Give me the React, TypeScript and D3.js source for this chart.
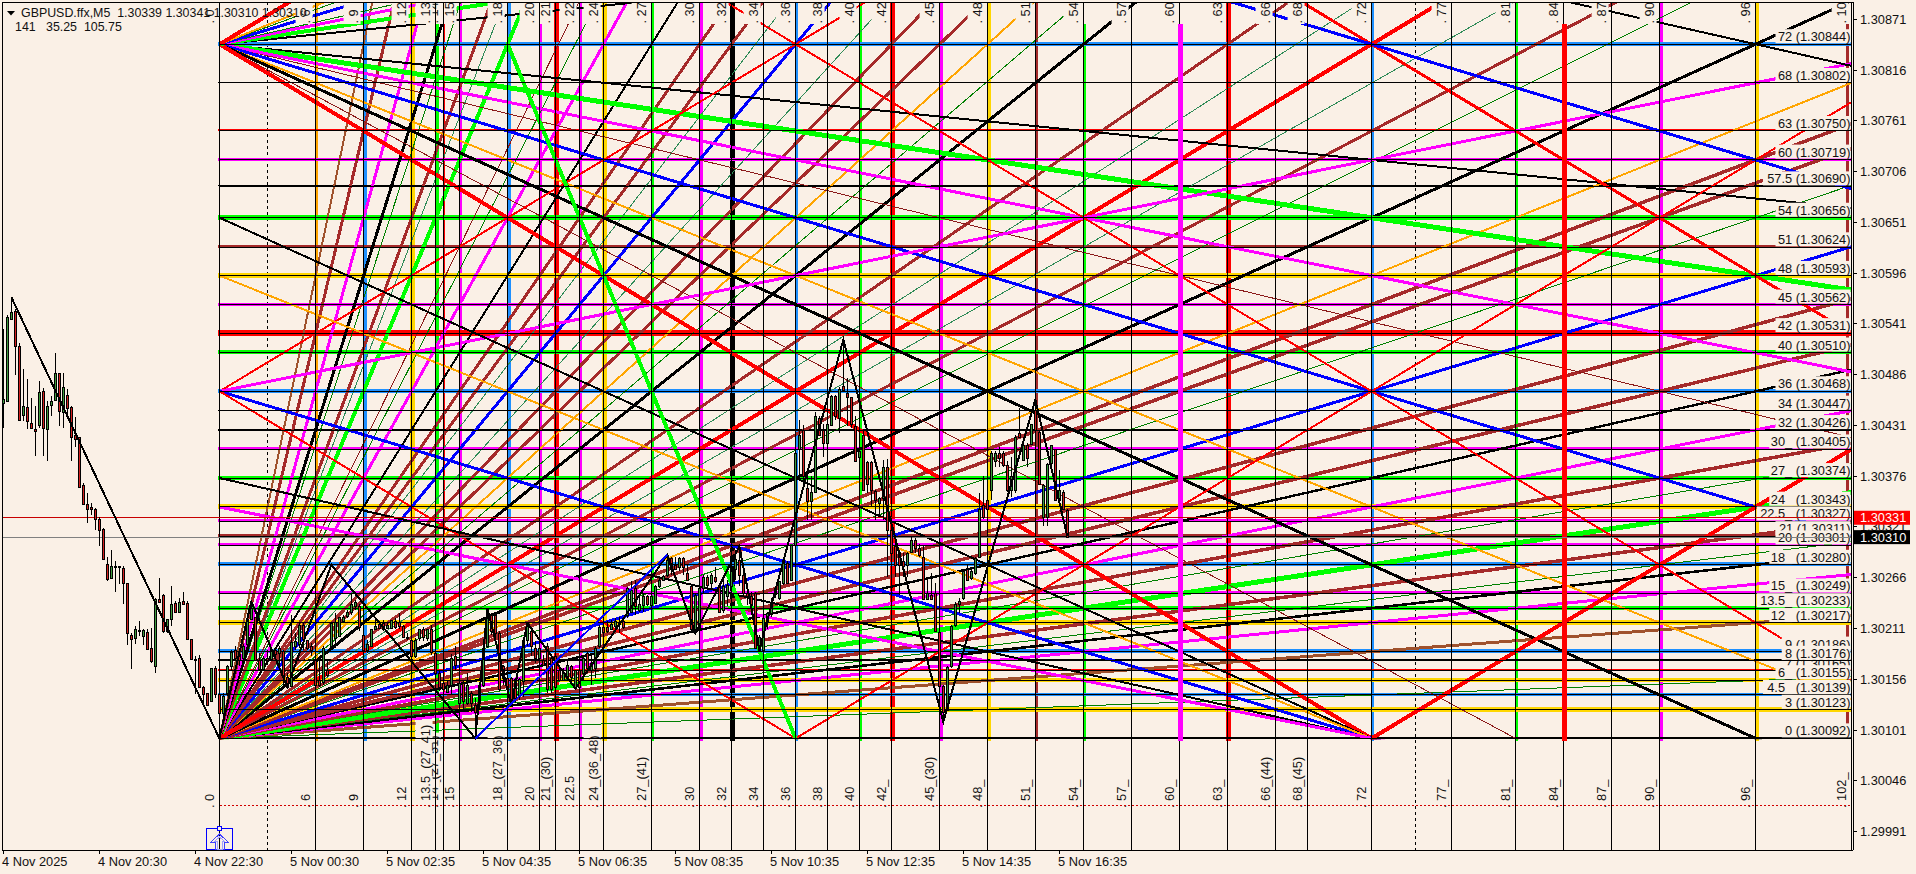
import React from "react";
import * as d3 from "d3";

const BG = "#FAF0E6";
const FONT = "'Liberation Sans', Arial, sans-serif";
const C: Record<string, string> = {
  k: "#000000", r: "#FF0000", b: "#0000FF", d: "#1E90FF", l: "#00FF00", m: "#FF00FF", g: "#FFD700",
  o: "#FFA500", n: "#A52A2A", s: "#A0522D", f: "#008000", e: "#2E8B57", t: "#8B1A1A",
};

// Price levels in draw order: unit, price, label, colour, line width
const levelUnits = [72, 68, 63, 60, 57.5, 54, 51, 48, 45, 42, 40, 36, 34, 32, 30, 27, 24, 22.5, 21, 20, 18, 15, 13.5, 12, 9, 7, 8, 6, 4.5, 3, 0];
const levelPrices = [1.30844, 1.30802, 1.3075, 1.30719, 1.3069, 1.30656, 1.30624, 1.30593, 1.30562, 1.30531, 1.3051, 1.30468, 1.30447, 1.30426, 1.30405, 1.30374, 1.30343, 1.30327, 1.30311, 1.30301, 1.3028, 1.30249, 1.30233, 1.30217, 1.30186, 1.30165, 1.30176, 1.30155, 1.30139, 1.30123, 1.30092];
const levelTags = ["72", "68", "63", "60", "57.5", "54", "51", "48", "45", "42", "40", "36", "34", "32", "30_", "27_", "24_", "22.5_", "21", "20", "18_", "15_", "13.5_", "12_", "9", "7", "8", "6_", "4.5_", "3", "0"];
const levelColors = ["d", "k", "r", "m", "k", "l", "n", "g", "m", "r", "l", "d", "k", "k", "m", "l", "g", "m", "n", "m", "d", "m", "l", "g", "d", "r", "k", "g", "d", "g", "k"];
const levelWidths = [4, 1, 2, 3, 1, 5, 3, 5, 3, 6, 4, 4, 1, 2, 3, 4, 5, 3, 3, 3, 4, 3, 4, 5, 4, 2, 2, 4, 3, 5, 1];

// Time columns in draw order: unit, label, colour, width
const colUnits = [0, 6, 9, 12, 14, 13.5, 15, 18, 20, 21, 22.5, 24, 27, 30, 32, 34, 36, 38, 40, 42, 45, 48, 51, 54, 57, 60, 63, 66, 68, 72, 77, 81, 84, 87, 90, 96, 102];
const colTags = ["0", "6", "9", "12", "14_(27_51)", "13.5_(27_41)", "15", "18_(27_36)", "20", "21_(30)", "22.5", "24_(36_48)", "27_(41)", "30", "32", "34", "36", "38", "40", "42_", "45_(30)", "48_", "51_", "54_", "57_", "60_", "63_", "66_(44)", "68_(45)", "72", "77_", "81_", "84_", "87_", "90_", "96_", "102_"];
const colColors = ["k", "o", "d", "g", "r", "l", "m", "d", "m", "r", "m", "g", "l", "m", "k", "k", "d", "k", "l", "r", "m", "g", "n", "l", "k", "m", "r", "k", "k", "d", "k", "l", "r", "k", "m", "g", "k"];
const colWidths = [1, 3, 4, 5, 2, 4, 3, 4, 3, 5, 3, 5, 3, 4, 5, 1, 3, 1, 3, 5, 4, 4, 3, 3, 1, 5, 5, 1, 1, 3, 1, 3, 5, 1, 4, 4, 1];
const colsHiddenAtTop = [13.5, 20, 54, 60, 84, 102];
const colsOverBlack = [60, 84];
const edgeBarUnit = 101.75;

// Fan rays: start unit, start level, slope (level per unit), colour, width
const rays: [number, number, number, string, number][] = [
  // from (0,0), rising
  [0, 0, 0.0625, "f", 1], [0, 0, 0.125, "s", 3], [0, 0, 1 / 6, "m", 3], [0, 0, 3 / 16, "k", 2.6], [0, 0, 0.2, "f", 1],
  [0, 0, 0.22, "n", 3.5], [0, 0, 0.25, "l", 5], [0, 0, 0.28, "f", 1], [0, 0, 0.3, "n", 3.5], [0, 0, 1 / 3, "m", 3],
  [0, 0, 0.375, "k", 2.4], [0, 0, 0.4, "n", 3.5], [0, 0, 0.447, "n", 3.5], [0, 0, 0.5, "b", 3], [0, 0, 0.5625, "f", 1],
  [0, 0, 0.6, "n", 3.5], [0, 0, 0.625, "n", 3.5], [0, 0, 2 / 3, "o", 2], [0, 0, 0.75, "k", 3], [0, 0, 0.83, "f", 1],
  [0, 0, 0.875, "n", 3], [0, 0, 0.944, "e", 1], [0, 0, 1.07, "e", 1], [0, 0, 8 / 7, "n", 3], [0, 0, 4 / 3, "k", 3],
  [0, 0, 1.42, "f", 1], [0, 0, 1.5, "o", 2], [0, 0, 1.6, "n", 3], [0, 0, 1.714, "n", 3], [0, 0, 1.83, "e", 1],
  [0, 0, 2, "b", 3], [0, 0, 2.15, "e", 1], [0, 0, 2.25, "n", 3], [0, 0, 2.4, "n", 3], [0, 0, 8 / 3, "k", 2],
  [0, 0, 3, "m", 3], [0, 0, 3.24, "f", 1], [0, 0, 3.4, "t", 1], [0, 0, 4, "l", 4], [0, 0, 4.3, "e", 1],
  [0, 0, 4.5, "n", 3], [0, 0, 5.07, "f", 1], [0, 0, 16 / 3, "k", 3], [0, 0, 6, "m", 3], [0, 0, 7, "n", 3], [0, 0, 8, "s", 2],
  [0, 0, 1, "r", 4],
  // from (0,72), falling
  [0, 72, -8 / 9, "t", 1], [0, 72, -0.4, "t", 1], [0, 72, -1 / 6, "k", 2], [0, 72, -0.25, "l", 5], [0, 72, -1 / 3, "m", 3],
  [0, 72, -0.5, "b", 3], [0, 72, -2 / 3, "o", 2], [0, 72, -0.75, "k", 3], [0, 72, -1, "r", 4],
  // from (0,72), rising
  [0, 72, 1 / 6, "k", 2], [0, 72, 0.25, "l", 4], [0, 72, 1 / 3, "m", 3], [0, 72, 0.38, "f", 1], [0, 72, 0.5, "b", 3], [0, 72, 0.6, "f", 1], [0, 72, 2 / 3, "o", 2], [0, 72, 1, "r", 4],
  // from (0,36)
  [0, 36, 1, "r", 2], [0, 36, 1 / 3, "m", 3], [0, 36, -0.5, "b", 3], [0, 36, -1, "r", 2],
  // left side of (72,0)
  [0, 54, -0.75, "k", 2], [0, 48, -2 / 3, "o", 2], [0, 27, -0.375, "k", 2], [0, 24, -1 / 3, "m", 3],
  // others
  [36, 0, 1, "r", 2], [72, 0, 1, "r", 4], [18, 72, -4, "l", 4], [0, 108, -1, "r", 2], [0, 144, -1, "r", 3], [0, 108, -0.5, "b", 3], [0, 108, -0.375, "k", 2],
];

// Bars: open, high, low, close, in points above 1.30000
const candles = [
  [455,535,428,460],[458,551,457,549],[546,569,546,554],[555,557,486,517],[517,520,436,437],[442,492,436,452],[451,481,427,436],[434,461,427,428],[427,452,398,425],[431,479,428,467],
  [468,472,398,428],[427,457,392,452],[453,463,441,458],[459,509,458,488],[488,488,430,447],[446,488,428,473],[464,470,439,450],[451,452,392,419],[421,440,408,416],[418,419,363,364],
  [367,369,346,346],[346,358,325,341],[343,347,334,341],[341,342,318,330],[330,332,300,318],[319,320,285,286],[281,288,262,265],[266,296,266,279],[279,284,251,279],[279,279,259,278],
  [277,279,238,260],[260,260,193,206],[204,206,167,200],[201,214,194,210],[209,219,203,208],[203,210,193,209],[207,211,188,189],[190,212,174,176],[170,244,163,243],[243,266,239,240],
  [247,248,206,208],[208,221,206,221],[221,257,214,238],[239,241,228,229],[229,244,228,240],[241,251,237,238],[239,241,200,200],[200,200,177,178],[178,181,140,177],[179,182,147,148],
  [148,149,129,140],[141,141,127,128],[132,168,132,168],[168,170,136,140],[140,141,94,120],[120,141,112,138],[141,172,138,170],[170,188,165,186],[188,192,177,179],[183,188,170,177],
  [179,194,177,192],[194,228,186,221],[221,241,221,233],[223,224,176,177],[177,185,165,167],[167,181,165,179],[179,188,174,177],[178,190,177,188],[188,190,181,183],[185,192,167,190],
  [187,188,149,158],[159,163,147,148],[149,226,149,196],[192,206,188,197],[194,217,190,215],[215,217,188,200],[199,199,188,190],[192,195,181,188],[177,217,148,150],[155,177,148,150],
  [153,192,150,190],[166,177,159,161],[192,217,190,217],[201,228,190,218],[203,224,202,223],[219,226,217,224],[225,231,222,229],[229,249,226,238],[235,242,231,240],[235,238,208,213],
  [204,213,177,188],[188,199,184,194],[192,211,192,210],[211,220,210,214],[216,219,211,212],[217,220,208,211],[212,217,210,215],[212,220,211,220],[219,222,211,213],[218,228,211,214],
  [214,215,201,202],[202,206,199,201],[199,202,179,181],[181,201,179,199],[201,211,197,210],[211,213,197,202],[201,211,197,210],[211,215,182,186],[185,186,143,163],[163,166,143,148],
  [152,164,139,145],[142,154,141,150],[150,183,139,179],[181,192,166,172],[130,155,125,152],[152,155,121,132],[130,163,128,150],[141,143,121,130],[128,136,92,121],[130,152,123,150],
  [150,192,148,190],[192,233,190,222],[226,228,204,208],[226,228,197,206],[206,208,143,145],[170,172,150,157],[157,168,143,146],[157,159,128,132],[156,157,130,136],[139,157,134,156],
  [154,199,137,199],[199,217,192,215],[208,213,181,192],[190,197,174,179],[179,193,163,190],[177,182,170,172],[192,195,141,146],[179,181,141,146],[181,184,143,148],[166,168,155,155],
  [155,168,154,164],[157,177,155,171],[170,172,150,159],[148,166,146,166],[166,168,146,148],[163,181,154,179],[184,186,163,168],[166,181,150,174],[168,192,157,190],[192,215,190,213],
  [213,217,206,207],[213,219,206,208],[210,220,210,216],[214,222,210,219],[218,224,206,216],[219,224,211,213],[226,256,222,255],[229,262,229,253],[255,264,226,235],[231,247,229,238],
  [236,249,229,246],[246,247,235,238],[237,249,235,246],[239,258,238,257],[257,267,255,264],[264,269,262,268],[269,291,267,285],[287,289,269,276],[280,289,275,276],[278,289,273,287],
  [287,289,269,278],[271,280,262,264],[257,258,208,211],[210,249,206,247],[213,257,208,255],[255,269,249,267],[267,269,253,258],[260,271,255,269],[267,278,260,262],[258,260,228,229],
  [231,264,228,257],[246,264,235,258],[257,275,253,273],[276,296,264,286],[285,300,257,269],[269,271,246,249],[249,260,237,246],[246,251,231,237],[249,251,190,190],[188,204,186,202],
  [188,224,188,222],[219,229,210,228],[228,244,224,240],[248,257,244,255],[244,262,242,262],[260,287,258,285],[282,284,260,260],[264,302,262,301],[301,403,300,401],[405,437,374,421],
  [426,432,368,376],[363,377,329,349],[349,376,329,359],[359,446,358,441],[439,441,421,421],[426,433,397,412],[412,437,408,433],[431,464,430,463],[463,464,437,441],[439,473,423,471],
  [474,524,468,469],[466,482,430,462],[462,462,428,433],[430,441,392,392],[397,405,394,403],[421,426,361,361],[391,392,358,368],[391,392,343,361],[360,361,329,350],[347,354,332,352],
  [352,394,329,386],[386,395,267,318],[318,329,269,293],[300,311,267,280],[294,296,247,280],[284,293,267,279],[280,294,267,293],[294,311,293,307],[307,309,293,298],[298,303,289,291],
  [289,300,242,243],[243,264,242,249],[247,271,242,243],[250,260,208,208],[207,210,148,149],[149,150,110,121],[123,170,123,169],[170,215,168,214],[215,240,213,238],[238,244,228,241],
  [244,273,242,273],[276,280,264,264],[266,275,264,273],[271,289,269,287],[288,358,287,341],[345,376,330,332],[350,401,330,341],[361,403,350,401],[392,403,386,401],[401,408,386,396],
  [401,403,386,388],[388,392,359,361],[361,397,354,376],[361,421,358,419],[423,450,419,419],[394,412,392,410],[410,412,386,396],[411,433,410,433],[448,459,368,426],[424,426,367,368],
  [332,368,322,367],[332,390,322,389],[390,410,379,410],[405,406,350,350],[350,383,350,361],[359,361,340,340],[339,341,310,310],
];

// Zigzag turning points: bar index and points above 1.30000
const zigBars = [2, 54, 62, 71, 82, 118, 121, 127, 131, 143, 166, 173, 184, 189, 210, 235, 258, 266];
const zigPoints = [570, 92, 240, 148, 280, 92, 233, 128, 217, 146, 291, 206, 300, 188, 524, 110, 459, 311];
const trendBars = [118, 166];
const trendPoints = [92, 291];

const priceTicks = [1.30871, 1.30816, 1.30761, 1.30706, 1.30651, 1.30596, 1.30541, 1.30486, 1.30431, 1.30376, 1.30321, 1.30266, 1.30211, 1.30156, 1.30101, 1.30046, 1.29991];
const timeTicks = ["4 Nov 2025", "4 Nov 20:30", "4 Nov 22:30", "5 Nov 00:30", "5 Nov 02:35", "5 Nov 04:35", "5 Nov 06:35", "5 Nov 08:35", "5 Nov 10:35", "5 Nov 12:35", "5 Nov 14:35", "5 Nov 16:35"];
const daySeparatorBars = [66, 353];
const askPrice = 1.30331;
const bidPrice = 1.30310;
const dottedPrice = 1.30019;

const W = 1916, H = 874, L = 2, R = 1851, T = 2, B = 850;
const yP = d3.scaleLinear().domain([1.30871, 1.29991]).range([19.3, 831.6]);
const xU = d3.scaleLinear().domain([0, 102]).range([219.6, 1851.6]);
const yU = d3.scaleLinear().domain([0, 72]).range([yP(1.30092), yP(1.30844)]);
const xBar = d3.scaleLinear().domain([0, 266]).range([3.33, 1067.33]);
const yPts = (p: number) => yP(1.3 + p / 100000);
const px = (v: number) => Math.round(v);
const zigLine = d3.line<number>().x((b) => xBar(b)).y((_, i) => yPts(zigPoints[i]));
const trendLine = d3.line<number>().x((b) => xBar(b)).y((_, i) => yPts(trendPoints[i]));
const tickX = d3.scaleLinear().domain([0, 11]).range([3.5, 1059.5]);

export default function App() {
  const textProps = { fontFamily: FONT, fontSize: 12.8, fill: "#111" };
  const legendProps = { ...textProps, fontSize: 12.4 };
  const u0 = xU(0);
  const colShift = (w: number) => (w >= 3 ? 1 : 0);
  return (
    <svg width={W} height={H} viewBox={`0 0 ${W} ${H}`} style={{ position: "fixed", left: 0, top: 0, display: "block", background: BG }}>
      <defs>
        <clipPath id="fan"><rect x={u0} y={T} width={R - u0} height={yU(0) - T + 1} /></clipPath>
        <clipPath id="plot"><rect x={L} y={T} width={R - L} height={B - T} /></clipPath>
      </defs>
      <rect width={W} height={H} fill={BG} />
      <g shapeRendering="crispEdges">
        {/* day separators */}
        {daySeparatorBars.map((b) => (
          <line key={b} x1={px(xBar(b))} x2={px(xBar(b))} y1={T} y2={B} stroke="#000" strokeDasharray="3,3" />
        ))}
        {/* coloured columns */}
        {colUnits.map((u, i) => (
          colColors[i] === "k" && colWidths[i] === 1 ? null :
            <line key={u} x1={xU(u) + colShift(colWidths[i])} x2={xU(u) + colShift(colWidths[i])} y1={colsHiddenAtTop.includes(u) ? 24 : T} y2={yU(0) + 3} stroke={C[colColors[i]]} strokeWidth={colWidths[i]} />
        ))}
        <line x1={xU(edgeBarUnit)} x2={xU(edgeBarUnit)} y1={24} y2={yU(0)} stroke={C.n} strokeWidth={3} />
        {/* coloured levels */}
        {levelUnits.map((u, i) => (
          <line key={u} x1={u0 - 2} x2={R} y1={yP(levelPrices[i]) - 0.5} y2={yP(levelPrices[i]) - 0.5} stroke={C[levelColors[i]]} strokeWidth={levelWidths[i]} />
        ))}
        {/* fans */}
        <g clipPath="url(#fan)">
          {rays.map(([a, v, s, c, w], i) => (
            <line key={i} x1={xU(a)} y1={yU(v)} x2={xU(102)} y2={yU(v + s * (102 - a))} stroke={C[c]} strokeWidth={w} />
          ))}
        </g>
      </g>

      {/* column labels, top and bottom */}
      <g clipPath="url(#plot)">
        {colUnits.map((u, i) => {
          const tag = ". " + colTags[i];
          const len = tag.length * 6.2 + 2;
          const x = xU(u);
          return (
            <g key={u}>
              <rect x={x - 20} y={T} width={17} height={22} fill={BG} />
              <rect x={x - 20} y={809 - len} width={17} height={len} fill={BG} />
              <text transform={`translate(${x - 6},23.5) rotate(-90)`} {...textProps} xmlSpace="preserve">{tag}</text>
              <text transform={`translate(${x - 6},808) rotate(-90)`} {...textProps} xmlSpace="preserve">{tag}</text>
            </g>
          );
        })}
      </g>

      {/* level labels with their thin black rules */}
      {levelUnits.map((u, i) => {
        const y = yP(levelPrices[i]);
        const s = `${levelTags[i]} (${levelPrices[i].toFixed(5)})`;
        const width = s.length * 6.25;
        return (
          <g key={u}>
            <line x1={u0} x2={R} y1={y} y2={y} stroke="#000" shapeRendering="crispEdges" />
            <rect x={1850.5 - width} y={y - 15} width={width} height={14} fill={BG} />
            <text x={1850.5} y={y - 3} textAnchor="end" {...textProps}>{s}</text>
          </g>
        );
      })}

      <g shapeRendering="crispEdges">
        {colUnits.map((u) => (
          <line key={u} x1={xU(u)} x2={xU(u)} y1={T} y2={B} stroke="#000" />
        ))}
        {colUnits.map((u, i) => (
          colsOverBlack.includes(u) ? <line key={u} x1={xU(u) + 1} x2={xU(u) + 1} y1={24} y2={yU(0) + 3} stroke={C[colColors[i]]} strokeWidth={colWidths[i]} /> : null
        ))}
        <line x1={u0} x2={R} y1={yP(dottedPrice)} y2={yP(dottedPrice)} stroke="#D00000" strokeDasharray="2,2" />
        <line x1={L} x2={R} y1={yP(askPrice)} y2={yP(askPrice)} stroke="#C80000" />
        <line x1={L} x2={R} y1={yP(bidPrice)} y2={yP(bidPrice)} stroke="#808080" />
        {/* candles */}
        {candles.map(([o, h, l, c], i) => {
          const x = px(xBar(i));
          const top = px(yPts(Math.max(o, c)));
          const bot = px(yPts(Math.min(o, c)));
          return (
            <g key={i}>
              <line x1={x + 0.5} x2={x + 0.5} y1={px(yPts(h))} y2={px(yPts(l))} stroke="#000" />
              <rect x={x - 0.5} y={top + 0.5} width={2} height={Math.max(bot - top, 1)} fill={c >= o ? "#3C9A3C" : "#D42020"} stroke="#000" />
            </g>
          );
        })}
      </g>
      <path d={zigLine(zigBars) || ""} fill="none" stroke="#000" strokeWidth={2} shapeRendering="crispEdges" />
      <path d={trendLine(trendBars) || ""} fill="none" stroke={C.b} strokeWidth={2} shapeRendering="crispEdges" />

      {/* start marker */}
      <g fill="none" stroke="#0000FF" shapeRendering="crispEdges">
        <rect x={206.5} y={828.5} width={26} height={21} />
        <rect x={217.5} y={826.5} width={4} height={4} fill={BG} />
        <path d="M219.5 834 L228 842 L224 842 L224 849 L215 849 L215 842 L211 842 Z" stroke="#4040FF" />
        <path d="M219.5 837 L224 841 L222 841 L222 849 L217 849 L217 841 L215 841 Z" stroke="#A0A0FF" />
      </g>

      {/* frame */}
      <g stroke="#000" shapeRendering="crispEdges">
        <line x1={L} x2={L} y1={T} y2={B} />
        <line x1={L} x2={1853} y1={T} y2={T} />
        <line x1={L} x2={1853} y1={B} y2={B} />
        <line x1={1851} x2={1851} y1={T} y2={B} />
        <line x1={1853} x2={1853} y1={T} y2={B} />
      </g>

      {/* price axis */}
      {priceTicks.map((p) => (
        <g key={p}>
          <line x1={1853} x2={1857} y1={yP(p)} y2={yP(p)} stroke="#000" shapeRendering="crispEdges" />
          <text x={1860} y={yP(p) + 4.5} {...textProps}>{p.toFixed(5)}</text>
        </g>
      ))}
      <rect x={1854} y={yP(askPrice) - 7} width={56} height={14} fill="#FF0000" />
      <text x={1860} y={yP(askPrice) + 4.5} {...textProps} fill="#fff">{askPrice.toFixed(5)}</text>
      <rect x={1854} y={yP(bidPrice) - 7} width={56} height={14} fill="#000" />
      <text x={1860} y={yP(bidPrice) + 4.5} {...textProps} fill="#fff">{bidPrice.toFixed(5)}</text>

      {/* time axis */}
      {timeTicks.map((t, i) => (
        <g key={t}>
          <line x1={tickX(i)} x2={tickX(i)} y1={B} y2={B + 4} stroke="#000" shapeRendering="crispEdges" />
          <text x={tickX(i) - 1.5} y={866} {...textProps}>{t}</text>
        </g>
      ))}

      {/* legend */}
      <path d="M7 11 L15 11 L11 15.5 Z" fill="#000" />
      <text x={21} y={17} {...legendProps} xmlSpace="preserve">{"GBPUSD.ffx,M5  1.30339 1.30341 1.30310 1.30310"}</text>
      <text x={15} y={31} {...legendProps} xmlSpace="preserve">{"141   35.25  105.75"}</text>
    </svg>
  );
}
